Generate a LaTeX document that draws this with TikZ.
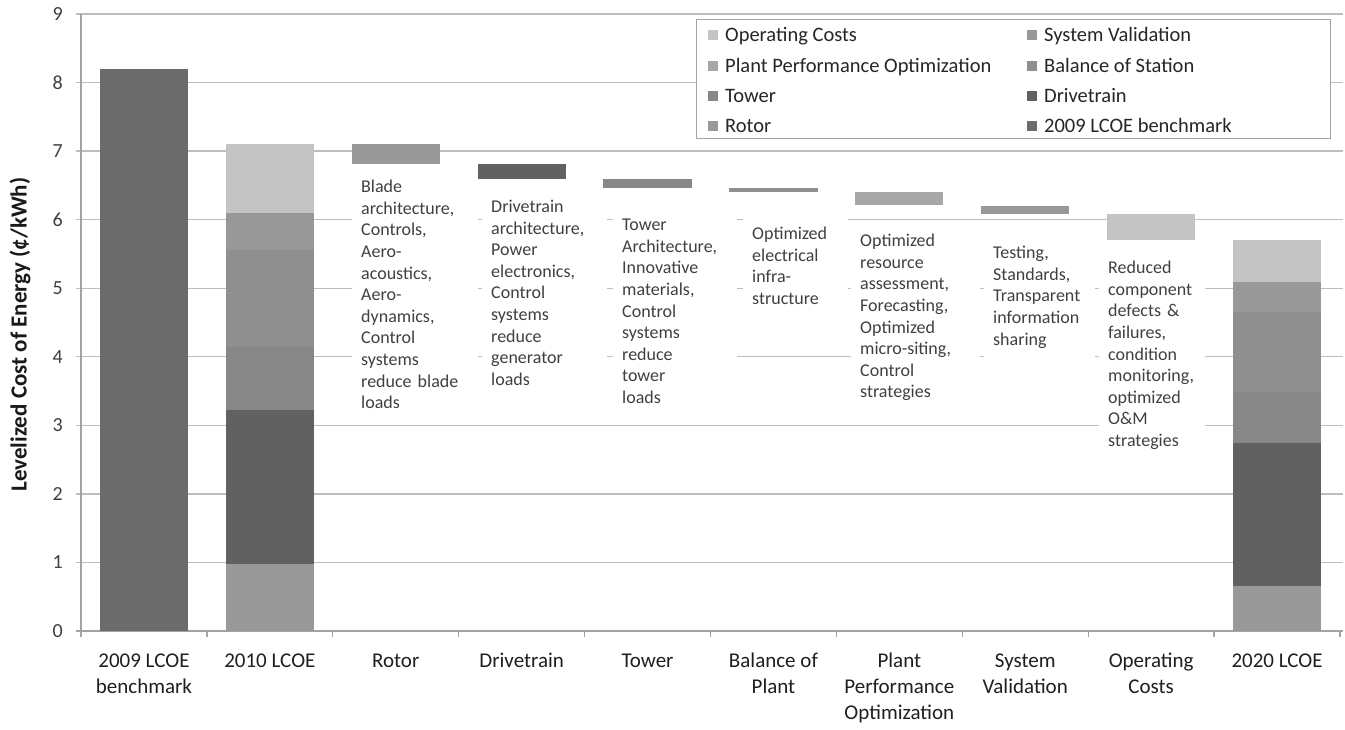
\documentclass[tikz,border=0pt]{standalone}
\usepackage{fontspec}
\setmainfont{Carlito}
\usepackage{tikz}

\definecolor{cBench}{HTML}{6B6B6B}
\definecolor{cRotor}{HTML}{999999}
\definecolor{cDrive}{HTML}{616161}
\definecolor{cTower}{HTML}{878787}
\definecolor{cBoS}{HTML}{8F8F8F}
\definecolor{cPPO}{HTML}{A7A7A7}
\definecolor{cSV}{HTML}{989898}
\definecolor{cOC}{HTML}{C4C4C4}
\definecolor{cGrade}{HTML}{BDBDBD}
\definecolor{cEixo}{HTML}{A3A3A3}
\definecolor{cTexto}{HTML}{404040}
\newcommand{\semhifen}{\hyphenpenalty=10000\relax\exhyphenpenalty=10000\relax}

\begin{document}
\begin{tikzpicture}[x=1pt,y=1pt,
		grade/.style={draw=cGrade, line width=1.3pt},
		eixo/.style={draw=cEixo, line width=1.3pt},
		rotulo/.style={fill=white, align=left, anchor=north west, inner xsep=9pt, inner ysep=10pt, text=cTexto,
			font={\fontsize{18}{21.6}\selectfont\semhifen}},
		categoria/.style={align=center, anchor=north, inner sep=0pt, text=black!88, font=\fontsize{21}{26}\selectfont},
		valor/.style={anchor=east, inner sep=0pt, text=cTexto, font=\fontsize{20}{24}\selectfont},
		legenda/.style={anchor=base west, inner sep=0pt, text=black!85, font=\fontsize{20.5}{24}\selectfont}]
		\useasboundingbox[fill=white] (0,0) rectangle (1345,730);
		
		% Eixos, grade e barras (unidades do grafico)
		\begin{scope}[shift={(81,99)}, x=125.9pt, y=68.55pt]
			\foreach \v in {1,...,9} \draw[grade] (-0.04,\v) -- (10.02,\v);
			\draw[eixo] (0,0) -- (0,9);
			\draw[eixo] (-0.04,0) -- (10.02,0);
			\foreach \i in {0,...,10} \draw[eixo] (\i,0) -- (\i,-0.09);
			\foreach \v in {0,...,9} \node[valor] (val\v) at (-0.143,\v) {\v};
			
			% 2009
			\fill[cBench] (0.15,0) rectangle (0.85,8.2);
			% 2010
			\foreach \a/\b/\c in {0/0.97/cRotor, 0.97/3.23/cDrive, 3.23/4.15/cTower, 4.15/5.56/cBoS, 5.56/6.1/cSV, 6.1/7.1/cOC}
			\fill[\c] (1.15,\a) rectangle (1.85,\b);
			% Reducoes
			\foreach \i/\a/\b/\c in {2/6.81/7.1/cRotor, 3/6.59/6.81/cDrive, 4/6.46/6.59/cTower, 5/6.40/6.46/cBoS,
				6/6.21/6.40/cPPO, 7/6.09/6.20/cSV, 8/5.70/6.09/cOC}
			\fill[\c] (\i+0.15,\a) rectangle (\i+0.85,\b);
			% 2020
			\foreach \a/\b/\c in {0/0.66/cRotor, 0.66/2.74/cDrive, 2.74/3.49/cTower, 3.49/4.65/cBoS, 4.65/5.09/cSV, 5.09/5.7/cOC}
			\fill[\c] (9.15,\a) rectangle (9.85,\b);
			
			% Categorias
			\foreach \i/\t in {0/{2009 LCOE\\benchmark}, 1/{2010 LCOE}, 2/{Rotor}, 3/{Drivetrain}, 4/{Tower},
				5/{Balance of\\Plant}, 6/{Plant\\Performance\\Optimization}, 7/{System\\Validation},
				8/{Operating\\Costs}, 9/{2020 LCOE}}
			\node[categoria] (cat\i) at (\i+0.5,-0.26) {\strut\t};
		\end{scope}
		
		% Titulo do eixo
		\node[rotate=90, inner sep=0pt, text=black!90, font=\bfseries\fontsize{23}{27}\selectfont] (titulo) at (20,395.5)
		{Levelized Cost of Energy (¢/kWh)};
		
		% Rotulos das reducoes
		\node[rotulo, text width=108pt] (tRotor) at (352,560) {Blade\\architecture,\\Controls,\\Aero-\\acoustics,\\Aero-\\dynamics,\\Control\\systems\\reduce blade\\loads};
		\node[rotulo, text width=107pt] (tDrive) at (482,540) {Drivetrain\\architecture,\\Power\\electronics,\\Control\\systems\\reduce\\generator\\loads};
		\node[rotulo, text width=106pt] (tTower) at (613,521) {Tower\\Architecture,\\Innovative\\materials,\\Control\\systems\\reduce\\tower\\loads};
		\node[rotulo, text width=87pt] (tBoP) at (743,513) {Optimized\\electrical\\infra-\\structure};
		\node[rotulo, text width=111pt] (tPPO) at (851,506) {Optimized\\resource\\assessment,\\Forecasting,\\Optimized\\micro-siting,\\Control\\strategies};
		\node[rotulo, text width=93pt] (tSV) at (984,494) {Testing,\\Standards,\\Transparent\\information\\sharing};
		\node[rotulo, text width=88pt] (tOC) at (1099,479) {Reduced\\component\\defects \&\\failures,\\condition\\monitoring,\\optimized\\O\&M\\strategies};
		
		% Legenda
		\draw[draw=cEixo, line width=1pt, fill=white] (696,710) rectangle (1330,591);
		\foreach \x/\y/\c/\t in {708/695/cOC/Operating Costs, 708/664/cPPO/Plant Performance Optimization,
			708/634/cTower/Tower, 708/604/cRotor/Rotor, 1027/695/cSV/System Validation,
			1027/664/cBoS/Balance of Station, 1027/634/cDrive/Drivetrain, 1027/604/cBench/2009 LCOE benchmark}
		{
			\fill[\c] (\x,\y-5) rectangle ++(10,10);
			\node[legenda] (leg\x\y) at (\x+17,\y-6.5) {\t};
		}
	\end{tikzpicture}
\end{document}
